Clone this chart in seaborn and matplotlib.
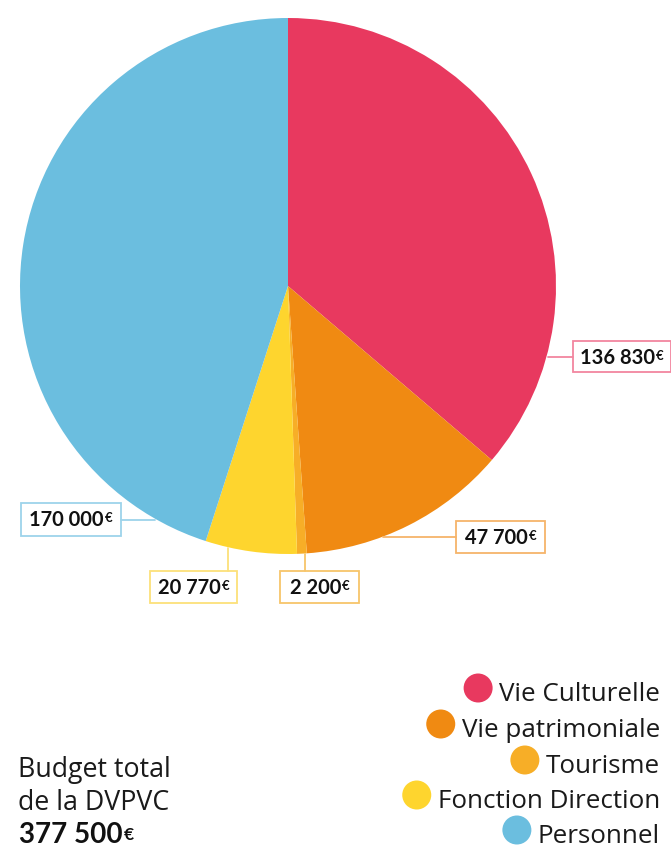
import matplotlib
matplotlib.use("Agg")
import matplotlib.pyplot as plt
import seaborn as sns
import numpy as np
from matplotlib.patches import Rectangle, Circle
from matplotlib.transforms import IdentityTransform

categories = ["Vie Culturelle", "Vie patrimoniale", "Tourisme", "Fonction Direction", "Personnel"]
values = [136830, 47700, 2200, 20770, 170000]
value_labels = ["136 830", "47 700", "2 200", "20 770", "170 000"]
total_label = "377 500"
colors = ["#E8395F", "#F08A12", "#F7AE27", "#FED52E", "#6BBEDF"]
box_colors = ["#F2869F", "#F6B46A", "#F7C56A", "#FCE07A", "#9DD3EA"]

sns.set_theme(style="white")
plt.rcParams['font.family'] = ['Lato', 'DejaVu Sans']

W, H = 671, 848
fig = plt.figure(figsize=(W / 100, H / 100), dpi=100)
fig.patch.set_facecolor("white")

cx, cy, R = 288, 286, 268
ax = fig.add_axes([(cx - R) / W, 1 - (cy + R) / H, 2 * R / W, 2 * R / H])
ax.pie(values, colors=colors, startangle=90, counterclock=False,
       wedgeprops=dict(linewidth=0), radius=1)
ax.set_xlim(-1, 1)
ax.set_ylim(-1, 1)
ax.set_aspect("equal")
ax.axis("off")

fig.canvas.draw()
renderer = fig.canvas.get_renderer()
ID = IdentityTransform()


def P(x, y):
    return (x, H - y)


boxes = {
    0: ((573, 341, 671, 372), "h"),
    1: ((456, 521, 545, 553), "h"),
    2: ((280, 571, 359, 603), "v"),
    3: ((150, 571, 237, 603), "v"),
    4: ((21, 503, 121, 536), "h"),
}


def draw_value(text, xc, yc, size_main, size_euro, color="#111111"):
    t = fig.text(*P(0, yc), text, transform=ID, fontsize=size_main, fontweight="bold",
                 color=color, ha="left", va="center", family=["Lato"])
    bb = t.get_window_extent(renderer)
    e = fig.text(0, 0, "€", transform=ID, fontsize=size_euro, fontweight="bold",
                 color=color, ha="left", va="top", family=["Lato"])
    eb = e.get_window_extent(renderer)
    tw = bb.width + eb.width + 1
    x0 = xc - tw / 2
    t.set_position(P(x0, yc))
    e.set_position((x0 + bb.width + 1, bb.y1 - 2))
    return t


for i, ((l, t, r, b), kind) in boxes.items():
    fig.add_artist(Rectangle(P(l, b), r - l, b - t, transform=ID, fill=False,
                             edgecolor=box_colors[i], linewidth=1.3))
    draw_value(value_labels[i], (l + r) / 2, (t + b) / 2 + 1, 14.5, 9.5)
    if kind == "h":
        yl = (t + b) / 2
        dy = (yl - cy)
        dx = np.sqrt(max(R * R - dy * dy, 0))
        if l > cx:
            x_start, x_end = cx + dx + 1, l
        else:
            x_start, x_end = cx - dx - 1, r
        fig.add_artist(plt.Line2D([x_start, x_end], [H - yl, H - yl], transform=ID,
                                  color=box_colors[i], linewidth=1.3))
    else:
        xl = {2: 305, 3: 228}[i]
        dx = xl - cx
        dy = np.sqrt(max(R * R - dx * dx, 0))
        fig.add_artist(plt.Line2D([xl, xl], [H - (cy + dy) - 1, H - t], transform=ID,
                                  color=box_colors[i], linewidth=1.3))

# legend
reg_font = ["Open Sans", "DejaVu Sans"]
leg_base = [701, 737, 773, 808, 843]
for i, name in enumerate(categories):
    tx = fig.text(*P(660, leg_base[i]), name, transform=ID, fontsize=18.7,
                  color="#1a1a1a", ha="right", va="baseline", family=reg_font)
    bb = tx.get_window_extent(renderer)
    fig.add_artist(Circle(P(bb.x0 - 21, leg_base[i] - 13), 14.5, transform=ID,
                          facecolor=colors[i], edgecolor="none"))

# total
fig.text(*P(18, 777), "Budget total", transform=ID, fontsize=19.3, color="#1a1a1a",
         ha="left", va="baseline", family=reg_font)
fig.text(*P(18, 810), "de la DVPVC", transform=ID, fontsize=19.3, color="#1a1a1a",
         ha="left", va="baseline", family=reg_font)
tt = fig.text(*P(19, 843), total_label, transform=ID, fontsize=20, fontweight="bold",
              color="#111111", ha="left", va="baseline", family=["Lato"])
tb = tt.get_window_extent(renderer)
fig.text(tb.x1 + 1, tb.y1 - 5, "€", transform=ID, fontsize=12.5, fontweight="bold",
         color="#111111", ha="left", va="top", family=["Lato"])

fig.savefig("out.png", dpi=100, facecolor="white")
